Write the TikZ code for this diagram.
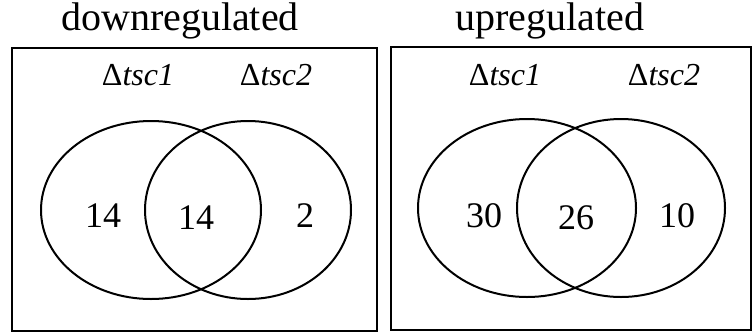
\documentclass[tikz,border=0pt]{standalone}
\usepackage{fontspec}
\setmainfont{Liberation Serif}
\begin{document}
\begin{tikzpicture}[x=1pt,y=-1pt,
  titletext/.style={anchor=base,inner sep=0pt,font=\fontsize{40}{48}\selectfont},
  settext/.style={anchor=base,inner sep=0pt,font=\fontsize{32}{38}\selectfont},
  numtext/.style={anchor=base,inner sep=0pt,font=\fontsize{36}{42}\selectfont},
  panel/.style={draw=black,line width=2.2pt},
  setline/.style={draw=black,line width=2pt}]
\useasboundingbox (0,0) rectangle (754,333);
% left panel
\node[titletext] (tdown) at (180,30) {downregulated};
\draw[panel] (12,48) rectangle (377,331);
\draw[setline] (151,210) ellipse [x radius=110, y radius=89];
\draw[setline] (248,210) ellipse [x radius=103, y radius=89];
\node[settext] (la) at (138,85) {Δ\textit{tsc1}};
\node[settext] (lb) at (276,85) {Δ\textit{tsc2}};
\node[numtext] (n1) at (103,227) {14};
\node[numtext] (n2) at (196,229) {14};
\node[numtext] (n3) at (305,227) {2};
% right panel
\node[titletext] (tup) at (550,30) {upregulated};
\draw[panel] (391,47) rectangle (751,330);
\draw[setline] (527,208) ellipse [x radius=109, y radius=89];
\draw[setline] (621,208) ellipse [x radius=104, y radius=89];
\node[settext] (ra) at (505,85) {Δ\textit{tsc1}};
\node[settext] (rb) at (664,85) {Δ\textit{tsc2}};
\node[numtext] (m1) at (484,227) {30};
\node[numtext] (m2) at (576,229) {26};
\node[numtext] (m3) at (677,227) {10};
\end{tikzpicture}
\end{document}
